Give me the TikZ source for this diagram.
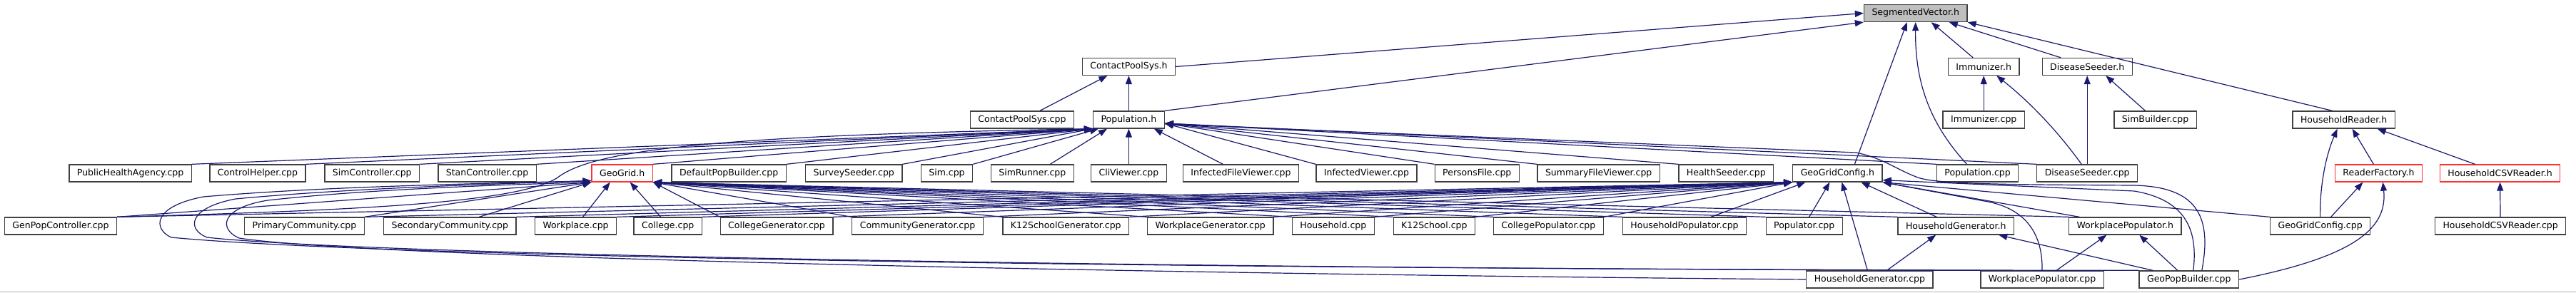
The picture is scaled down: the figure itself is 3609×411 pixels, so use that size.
\documentclass[tikz,border=0pt]{standalone}
\usepackage{fontspec}
\setmainfont{DejaVu Sans}
\usetikzlibrary{arrows.meta}
\definecolor{edgeblue}{HTML}{191970}
\definecolor{boxline}{HTML}{404040}
\definecolor{boxred}{HTML}{FF3030}
\definecolor{boxgray}{HTML}{BFBFBF}
\definecolor{rulegray}{HTML}{B4B4B4}

\begin{document}
\begin{tikzpicture}[x=1pt, y=-1pt,
    file/.style={draw=boxline, line width=1.3pt, fill=white, inner xsep=11pt, inner ysep=0pt,
      minimum height=24pt, font=\fontsize{12.5pt}{15pt}\selectfont},
    trunc/.style={file, draw=boxred},
    root/.style={file, fill=boxgray},
    dep/.style={draw=edgeblue, line width=1.2pt, -{Triangle[length=12pt, width=9pt]}}]
  \useasboundingbox (0,0) rectangle (3609,411);
  \draw[rulegray, line width=1pt] (0,410) -- (3609,410);

  % row 1 and 2
  \node[root] (sv) at (2683.7,18.5) {SegmentedVector.h};
  \node[file] (cpsh) at (1581.4,93.5) {ContactPoolSys.h};
  \node[file] (immh) at (2779.2,93.5) {Immunizer.h};
  \node[file] (dsh) at (2924.2,93.5) {DiseaseSeeder.h};

  % row 3
  \node[file] (cpsc) at (1431.9,168) {ContactPoolSys.cpp};
  \node[file] (poph) at (1581.4,168) {Population.h};
  \node[file] (immc) at (2779.2,168) {Immunizer.cpp};
  \node[file] (simb) at (3019.5,168) {SimBuilder.cpp};
  \node[file] (hhrh) at (3283.6,168) {HouseholdReader.h};

  % row 4
  \node[file] (pha) at (182.6,243) {PublicHealthAgency.cpp};
  \node[file] (ctlh) at (361,243) {ControlHelper.cpp};
  \node[file] (simc) at (521.3,243) {SimController.cpp};
  \node[file] (stanc) at (682.6,243) {StanController.cpp};
  \node[trunc] (gg) at (871.7,243) {GeoGrid.h};
  \node[file] (dpb) at (1021.1,243) {DefaultPopBuilder.cpp};
  \node[file] (survs) at (1196.3,243) {SurveySeeder.cpp};
  \node[file] (sim) at (1326.5,243) {Sim.cpp};
  \node[file] (simr) at (1446.3,243) {SimRunner.cpp};
  \node[file] (cliv) at (1581.4,243) {CliViewer.cpp};
  \node[file] (ifv) at (1738.4,243) {InfectedFileViewer.cpp};
  \node[file] (infv) at (1914.5,243) {InfectedViewer.cpp};
  \node[file] (pf) at (2069.3,243) {PersonsFile.cpp};
  \node[file] (sfv) at (2239.7,243) {SummaryFileViewer.cpp};
  \node[file] (hs) at (2418.3,243) {HealthSeeder.cpp};
  \node[file] (ggch) at (2574.4,243) {GeoGridConfig.h};
  \node[file] (popc) at (2770.6,243) {Population.cpp};
  \node[file] (dsc) at (2924.2,243) {DiseaseSeeder.cpp};
  \node[trunc] (rfh) at (3332.4,243) {ReaderFactory.h};
  \node[trunc] (hcsvh) at (3502.5,243) {HouseholdCSVReader.h};

  % row 5
  \node[file] (gpc) at (85,317) {GenPopController.cpp};
  \node[file] (pc) at (426.5,317) {PrimaryCommunity.cpp};
  \node[file] (sc) at (630.3,317) {SecondaryCommunity.cpp};
  \node[file] (wp) at (806.6,317) {Workplace.cpp};
  \node[file] (clg) at (935.7,317) {College.cpp};
  \node[file] (clgg) at (1088,317) {CollegeGenerator.cpp};
  \node[file] (comg) at (1285.5,317) {CommunityGenerator.cpp};
  \node[file] (k12g) at (1493.3,317) {K12SchoolGenerator.cpp};
  \node[file] (wpg) at (1695.7,317) {WorkplaceGenerator.cpp};
  \node[file] (hh) at (1867.8,317) {Household.cpp};
  \node[file] (k12) at (2009.3,317) {K12School.cpp};
  \node[file] (clgp) at (2169.4,317) {CollegePopulator.cpp};
  \node[file] (hhp) at (2360,317) {HouseholdPopulator.cpp};
  \node[file] (popl) at (2527.7,317) {Populator.cpp};
  \node[file] (hhgh) at (2740.2,317) {HouseholdGenerator.h};
  \node[file] (wpph) at (2977.3,317) {WorkplacePopulator.h};
  \node[file] (ggcc) at (3250.6,317) {GeoGridConfig.cpp};
  \node[file] (hcsvc) at (3503.1,317) {HouseholdCSVReader.cpp};

  % row 6
  \node[file] (hhgc) at (2619.4,392) {HouseholdGenerator.cpp};
  \node[file] (wppc) at (2861,392) {WorkplacePopulator.cpp};
  \node[file] (gpb) at (3066.8,392) {GeoPopBuilder.cpp};

  % SegmentedVector.h
  \draw[dep] (cpsh.east) -- (sv.west);
  \draw[dep] (poph.north east) -- (sv.south west);
  \draw[dep] ([xshift=24pt]ggch.north) -- ([xshift=-12pt]sv.south);
  \draw[dep] ([xshift=-15pt]popc.north) .. controls (2700,170) and (2683,110) .. (sv.south);
  \draw[dep] ([xshift=-15pt]immh.north) -- ([xshift=22pt]sv.south);
  \draw[dep] ([xshift=-37pt]dsh.north) -- ([xshift=47pt]sv.south);
  \draw[dep] ([xshift=-16pt]hhrh.north) -- (sv.south east);

  % second level headers
  \draw[dep] ([xshift=25pt]cpsc.north) -- ([xshift=-30pt]cpsh.south);
  \draw[dep] (poph) -- (cpsh);
  \draw[dep] (immc) -- (immh);
  \draw[dep] ([xshift=-8pt]dsc.north) .. controls (2880,180) and (2840,140) .. ([xshift=18pt]immh.south);
  \draw[dep] (dsc) -- (dsh);
  \draw[dep] ([xshift=-14pt]simb.north) -- ([xshift=26pt]dsh.south);
  \draw[dep] (ggcc.north) .. controls (3250,250) and (3262,210) .. ([xshift=-9pt]hhrh.south);
  \draw[dep] ([xshift=-7pt]rfh.north) -- ([xshift=12pt]hhrh.south);
  \draw[dep] ([xshift=-35pt]hcsvh.north) -- ([xshift=47pt]hhrh.south);
  \draw[dep] ([xshift=15pt]ggcc.north) -- ([xshift=-22pt]rfh.south);
  \draw[dep] (gpb.east) .. controls (3300,360) and (3345,320) .. ([xshift=6pt]rfh.south);
  \draw[dep] (hcsvc) -- (hcsvh);

  % Population.h
  \foreach \n in {pha, ctlh, simc, stanc, gg, dpb, survs}
    \draw[dep] (\n.north east) -- (poph.south west);
  \draw[dep] (sim.north east) -- ([xshift=8pt]poph.south west);
  \draw[dep] ([xshift=25pt]simr.north) -- ([xshift=20pt]poph.south west);
  \draw[dep] (cliv) -- (poph);
  \draw[dep] ([xshift=-25pt]ifv.north) -- ([xshift=-15pt]poph.south east);
  \foreach \n in {infv, pf, sfv, hs, popc, dsc}
    \draw[dep] (\n.north west) -- ([yshift=-5pt]poph.east);
  \draw[dep] (gpc.north east) .. controls (500,295) and (720,285) .. (780,250)
    .. controls (830,210) and (1000,190) .. (poph.south west);
  \draw[dep] ([xshift=18pt]gpb.north) .. controls (3100,300) and (3075,262) .. (2990,260)
    .. controls (2800,259) and (2720,258) .. (2690,250)
    .. controls (2660,240) and (2640,222) .. (2600,214) -- ([yshift=-6pt]poph.east);

  % GeoGrid.h
  \draw[dep] (gpc.north east) -- (gg.south west);
  \draw[dep] (pc.north east) -- (gg.south west);
  \draw[dep] ([xshift=41pt]sc.north) -- (gg.south west);
  \draw[dep] ([xshift=10pt]wp.north) -- ([xshift=-17pt]gg.south);
  \draw[dep] ([xshift=-10pt]clg.north) -- ([xshift=11pt]gg.south);
  \foreach \n in {clgg, comg, k12g, wpg, hh, k12, clgp, hhp, popl, hhgh, wpph}
    \draw[dep] (\n.north west) -- (gg.south east);
  % loops round the left
  \draw[dep] (gpb.north west) .. controls (1500,378) and (500,358) .. (240,333)
    .. controls (215,322) and (212,290) .. (285,276)
    .. controls (450,262) and (650,258) .. ([yshift=2pt]gg.south west);
  \draw[dep] (wppc.north west) .. controls (1500,376) and (500,356) .. (290,333)
    .. controls (262,322) and (262,292) .. (330,279)
    .. controls (480,265) and (660,259) .. ([yshift=2pt]gg.south west);
  \draw[dep] (hhgc.west) .. controls (1500,383) and (500,360) .. (335,334)
    .. controls (307,322) and (307,292) .. (375,281)
    .. controls (500,267) and (670,260) .. (gg.south west);

  % GeoGridConfig.h
  \foreach \n in {gpc, pc, sc, wp, clg, clgg, comg, k12g, wpg, hh, k12, clgp}
    \draw[dep] (\n.north east) -- (ggch.south west);
  \draw[dep] ([xshift=37pt]hhp.north) -- ([xshift=-45pt]ggch.south);
  \draw[dep] ([xshift=7pt]popl.north) -- ([xshift=-11pt]ggch.south);
  \draw[dep] ([xshift=-3pt]hhgc.north) -- ([xshift=6pt]ggch.south);
  \draw[dep] ([xshift=-27pt]hhgh.north) -- ([xshift=33pt]ggch.south);
  \draw[dep] ([xshift=-64pt]wpph.north) -- (ggch.south east);
  \draw[dep] (ggcc.north west) -- (ggch.south east);
  \draw[dep] (wppc.north) .. controls (2862,330) and (2840,292) .. (2780,282) -- (ggch.south east);
  \draw[dep] ([xshift=6pt]gpb.north) .. controls (3080,320) and (3060,280) .. (2990,268)
    -- ([yshift=3pt]ggch.south east);

  % row 5 headers
  \draw[dep] ([xshift=24pt]hhgc.north) -- ([xshift=-28pt]hhgh.south);
  \draw[dep] ([xshift=20pt]gpb.north west) -- ([xshift=60pt]hhgh.south);
  \draw[dep] ([xshift=20pt]wppc.north) -- ([xshift=-26pt]wpph.south);
  \draw[dep] ([xshift=-16pt]gpb.north) -- ([xshift=20pt]wpph.south);
\end{tikzpicture}
\end{document}
